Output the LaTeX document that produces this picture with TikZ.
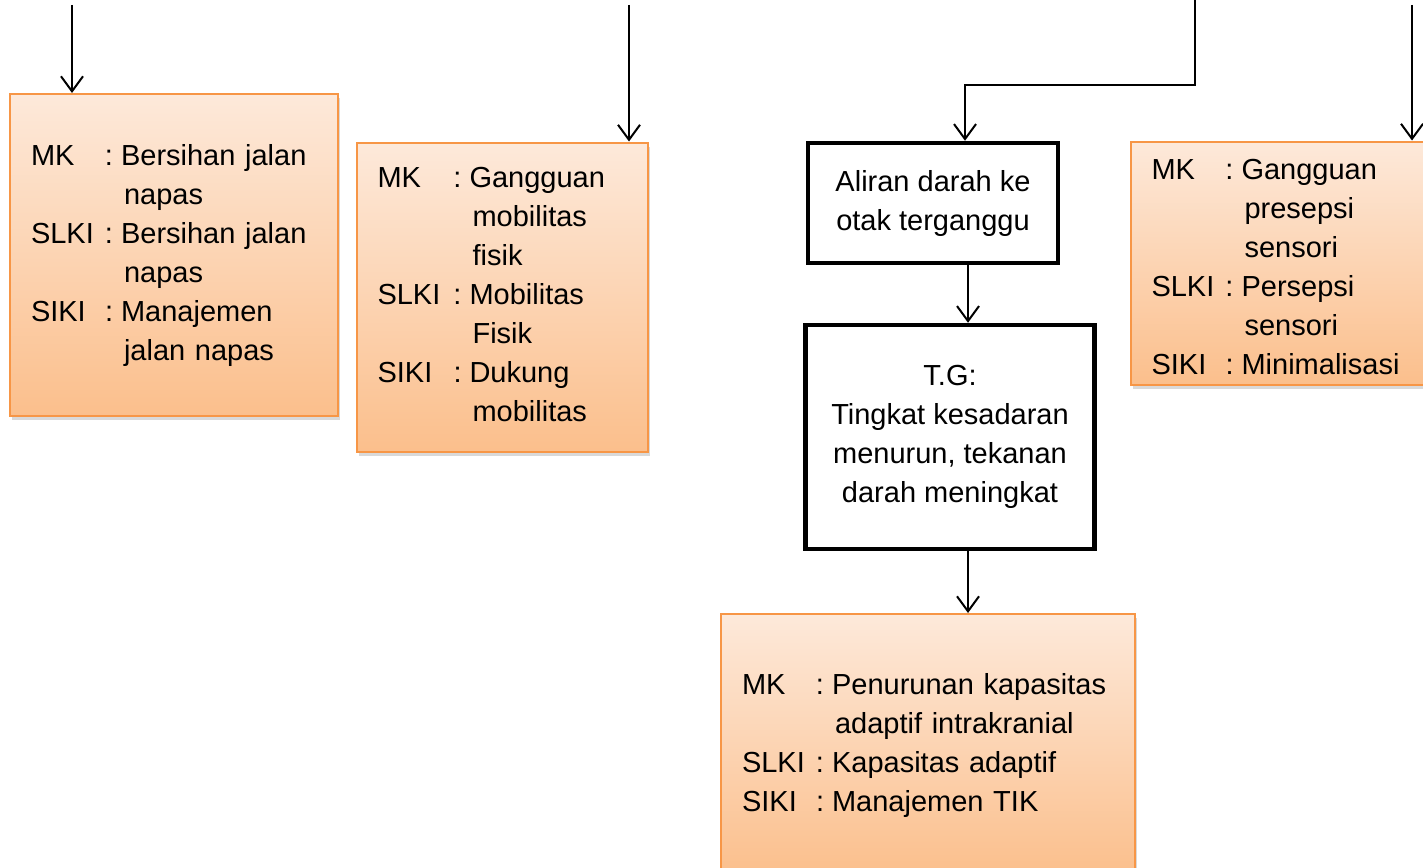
\documentclass[tikz,border=0pt]{standalone}
\usepackage{fontspec}
\setmainfont{Liberation Sans}
\usetikzlibrary{arrows.meta,shadows}
\definecolor{mkline}{HTML}{F79646}
\definecolor{mktop}{HTML}{FDE9DA}
\definecolor{mkbot}{HTML}{FBBF8C}
\tikzset{
  arr/.style={line width=2pt, -{Straight Barb[length=15pt,width=22pt]}},
  mkbox/.style={draw=mkline, line width=2pt, top color=mktop, bottom color=mkbot,
    drop shadow={opacity=0.3, shadow xshift=2pt, shadow yshift=-4pt},
    inner xsep=21pt, inner ysep=0pt, align=left},
  tgbox/.style={draw, line width=4.5pt, fill=white, align=center, inner sep=0pt}
}
\begin{document}
\begin{tikzpicture}[x=1pt,y=-1pt, font=\fontsize{29}{39}\selectfont]
\clip (0,0) rectangle (1423,867);

% ===== orange boxes =====
\node[mkbox, text width=286pt, minimum height=322pt] (b1) at (174,255) {%
\begin{tabular}{@{}p{74pt}@{}l@{\hspace{8pt}}l@{}}
MK & : & Bersihan jalan\\
   &   & \hspace{3pt}napas\\
SLKI & : & Bersihan jalan\\
   &   & \hspace{3pt}napas\\
SIKI & : & Manajemen\\
   &   & \hspace{3pt}jalan napas
\end{tabular}};

\node[mkbox, text width=249pt, minimum height=309pt] (b2) at (502,297) {%
\begin{tabular}{@{}p{76pt}@{}l@{\hspace{8pt}}l@{}}
MK & : & Gangguan\\
   &   & \hspace{3pt}mobilitas\\
   &   & \hspace{3pt}fisik\\
SLKI & : & Mobilitas\\
   &   & \hspace{3pt}Fisik\\
SIKI & : & Dukung\\
   &   & \hspace{3pt}mobilitas
\end{tabular}};

\node[mkbox, text width=267pt, minimum height=243pt] (b6) at (1285,263) {%
\begin{tabular}{@{}p{74pt}@{}l@{\hspace{8pt}}l@{}}
MK & : & Gangguan\\
   &   & \hspace{3pt}presepsi\\
   &   & \hspace{3pt}sensori\\
SLKI & : & Persepsi\\
   &   & \hspace{3pt}sensori\\
SIKI & : & Minimalisasi\\[-12pt]
\end{tabular}};

\node[mkbox, text width=372pt, minimum height=262pt] (b5) at (928,745) {%
\begin{tabular}{@{}p{74pt}@{}l@{\hspace{8pt}}l@{}}
MK & : & Penurunan kapasitas\\
   &   & \hspace{3pt}adaptif intrakranial\\
SLKI & : & Kapasitas adaptif\\
SIKI & : & Manajemen TIK
\end{tabular}};

% ===== black boxes =====
\node[tgbox, minimum width=250pt, minimum height=120pt] (b3) at (933,203)
  {Aliran darah ke\\otak terganggu};
\node[tgbox, minimum width=289pt, minimum height=224pt] (b4) at (950,437)
  {T.G:\\Tingkat kesadaran\\menurun, tekanan\\darah meningkat};

% ===== arrows =====
\coordinate (in1) at (72,5);
\coordinate (in2) at (629,5);
\coordinate (in6) at (1412,5);
\coordinate (in3) at (1195,0);
\coordinate (bend3) at (965,85);
\coordinate (mid) at (968,0);

\draw[arr] (in1) -- (in1 |- b1.north);
\draw[arr] (in2) -- (in2 |- b2.north);
\draw[arr] (in6) -- (in6 |- b6.north);
\draw[arr] (in3) |- (bend3) -- (bend3 |- b3.north);
\draw[arr] (mid |- b3.south) -- (mid |- b4.north);
\draw[arr] (mid |- b4.south) -- (mid |- b5.north);

\end{tikzpicture}
\end{document}
